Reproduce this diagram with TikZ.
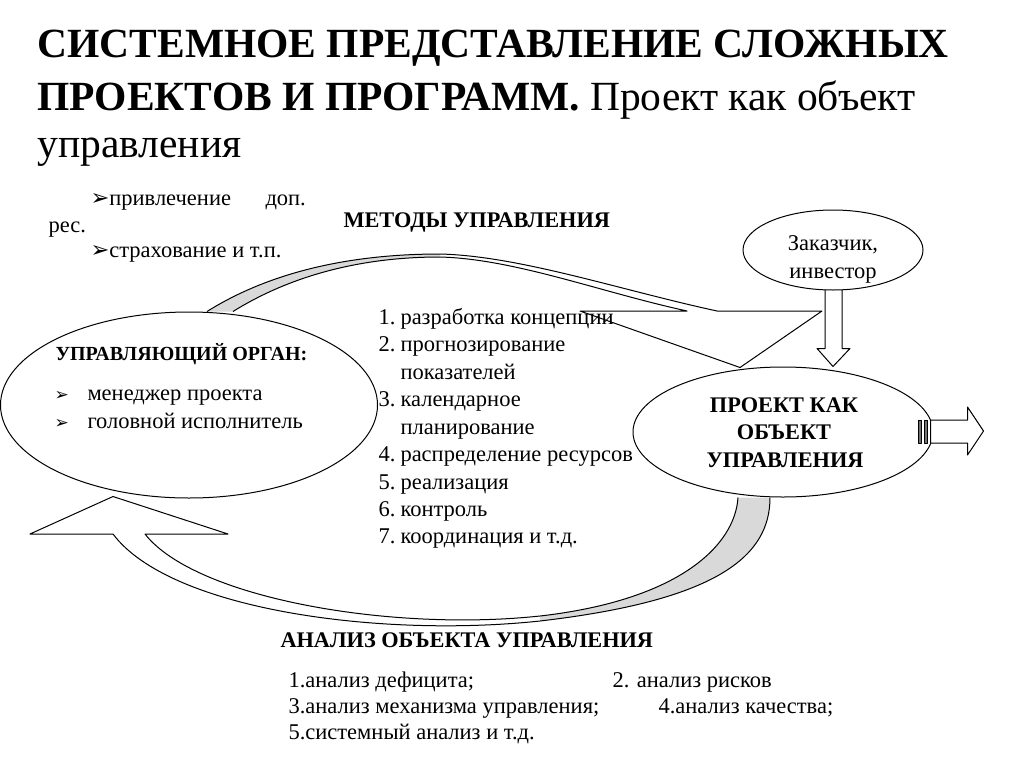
\documentclass[tikz,border=0pt]{standalone}
\usepackage{fontspec}
\setmainfont{Liberation Serif}
\newfontfamily\dejavu{DejaVu Sans}
\usetikzlibrary{shapes.geometric}
\usetikzlibrary{calc}
\newcommand{\mk}{{\dejavu\char"27A2}}
\tikzset{txt/.style={font=\fontsize{22.5}{22.5}\selectfont,inner sep=0pt,anchor=base west}}
\tikzset{hd/.style={font=\bfseries\fontsize{22.3}{22.3}\selectfont,inner sep=0pt,anchor=base west}}
\tikzset{big/.style={font=\fontsize{41.5}{41.5}\selectfont,inner sep=0pt,anchor=base west}}
\tikzset{oval/.style={draw,ellipse,inner sep=0pt}}
\tikzset{band/.style={fill=black!15}}

\begin{document}
\begin{tikzpicture}[x=1pt,y=-1pt,line width=1pt,line join=round]
  \useasboundingbox (0,0) rectangle (1024,768);
  \node[big] (title1) at (37,58) {\bfseries СИСТЕМНОЕ ПРЕДСТАВЛЕНИЕ СЛОЖНЫХ};
  \node[big] (title2) at (37,110) {{\bfseries ПРОЕКТОВ И ПРОГРАММ.} Проект как объект};
  \node[big] (title3) at (37,157) {управления};
  \node[oval,minimum width=377pt,minimum height=186pt] (org) at (189,405) {};
  \node[oval,minimum width=300pt,minimum height=130pt] (proj) at (783,432) {};
  \node[oval,minimum width=180pt,minimum height=80pt] (cust) at (833,250) {};
  % methods arrow
  \coordinate (t1) at ($(org.north)+(18,0)$);
  \coordinate (t2) at ($(org.north)+(44,0)$);
  \coordinate (ttip) at ($(proj.north)+(-43,1)$);
  \fill[band] (t1) .. controls (270,272) and (350,254) .. (440,254)
    -- (440,257) .. controls (360,257) and (290,276) .. (t2) -- cycle;
  \draw (t1) .. controls (270,272) and (350,254) .. (440,254)
    .. controls (520,256) and (620,290) .. (717,311) -- (822,311) -- (ttip)
    -- (580,311) -- (687,311) .. controls (600,292) and (515,259) .. (440,257)
    .. controls (360,257) and (290,276) .. (t2);
  % analysis arrow
  \coordinate (b1) at ($(proj.south)+(-13,0)$);
  \coordinate (b2) at ($(proj.south)+(-45,0)$);
  \coordinate (btip) at ($(org.south)+(-76,-2)$);
  \fill[band] (b1) .. controls (770,555) and (720,600) .. (540,621)
    -- (540,616) .. controls (680,600) and (735,545) .. (b2) -- cycle;
  \draw (b1) .. controls (770,555) and (720,600) .. (540,621)
    .. controls (380,638) and (170,610) .. (113,534) -- (30,534) -- (btip)
    -- (228,534) -- (145,534) .. controls (195,598) and (390,632) .. (540,616)
    .. controls (680,600) and (735,545) .. (b2);
  % customer arrow
  \draw ($(cust.south)+(-8,-1)$) -- ($(cust.south)+(-8,58)$) -- ($(cust.south)+(-16,58)$)
    -- (cust.south |- proj.north) -- ($(cust.south)+(17,58)$) -- ($(cust.south)+(9,58)$)
    -- ($(cust.south)+(9,-1)$);
  % output arrow
  \draw[fill=black!55] ($(proj.east)+(-15,-12)$) rectangle ($(proj.east)+(-12,11)$);
  \draw[fill=black!55] ($(proj.east)+(-9,-12)$) rectangle ($(proj.east)+(-6,11)$);
  \draw[fill=white] ($(proj.east)+(-3,-12)$) -- ($(proj.east)+(34,-12)$) -- ($(proj.east)+(34,-25)$)
    -- ($(proj.east)+(50,-1)$) -- ($(proj.east)+(34,23)$) -- ($(proj.east)+(34,11)$)
    -- ($(proj.east)+(-3,11)$) -- cycle;
  % texts
  \node[txt] (res1) at (90,205) {\mk привлечение};
  \node[txt] (res1b) at (265,205) {доп.};
  \node[txt] (res2) at (48,232) {рес.};
  \node[txt] (res3) at (90,257) {\mk страхование и т.п.};
  \node[hd] (meth) at (343,227) {МЕТОДЫ УПРАВЛЕНИЯ};
  \node[hd,font=\bfseries\fontsize{20}{20}\selectfont] (orgt) at (55,360) {УПРАВЛЯЮЩИЙ ОРГАН:};
  \node[txt,font=\fontsize{17}{17}\selectfont] (mk1) at (54,400) {\mk};
  \node[txt] (org1) at (87,400) {менеджер проекта};
  \node[txt,font=\fontsize{17}{17}\selectfont] (mk2) at (54,428) {\mk};
  \node[txt] (org2) at (87,428) {головной исполнитель};
  \node[txt] (n1) at (378,324) {1.};
  \node[txt] (m1) at (400,324) {разработка концепции};
  \node[txt] (n2) at (378,351) {2.};
  \node[txt] (m2) at (400,351) {прогнозирование};
  \node[txt] (m2b) at (400,379) {показателей};
  \node[txt] (n3) at (378,406) {3.};
  \node[txt] (m3) at (400,406) {календарное};
  \node[txt] (m3b) at (400,434) {планирование};
  \node[txt] (n4) at (378,461) {4.};
  \node[txt] (m4) at (400,461) {распределение ресурсов};
  \node[txt] (n5) at (378,489) {5.};
  \node[txt] (m5) at (400,489) {реализация};
  \node[txt] (n6) at (378,516) {6.};
  \node[txt] (m6) at (400,516) {контроль};
  \node[txt] (n7) at (378,543) {7.};
  \node[txt] (m7) at (400,543) {координация и т.д.};
  \node[txt,anchor=base] (cust1) at (833,250) {Заказчик,};
  \node[txt,anchor=base] (cust2) at (833,278) {инвестор};
  \node[hd,anchor=base] (proj1) at (784,412) {ПРОЕКТ КАК};
  \node[hd,anchor=base] (proj2) at (784,439) {ОБЪЕКТ};
  \node[hd,anchor=base] (proj3) at (785,467) {УПРАВЛЕНИЯ};
  \node[hd] (anal) at (280,647) {АНАЛИЗ ОБЪЕКТА УПРАВЛЕНИЯ};
  \node[txt] (a1) at (288,687) {1.анализ дефицита;};
  \node[txt] (a2) at (612,687) {2. анализ рисков};
  \node[txt] (a3) at (288,713) {3.анализ механизма управления;};
  \node[txt] (a4) at (658,713) {4.анализ качества;};
  \node[txt] (a5) at (288,739) {5.системный анализ и т.д.};
\end{tikzpicture}
\end{document}
